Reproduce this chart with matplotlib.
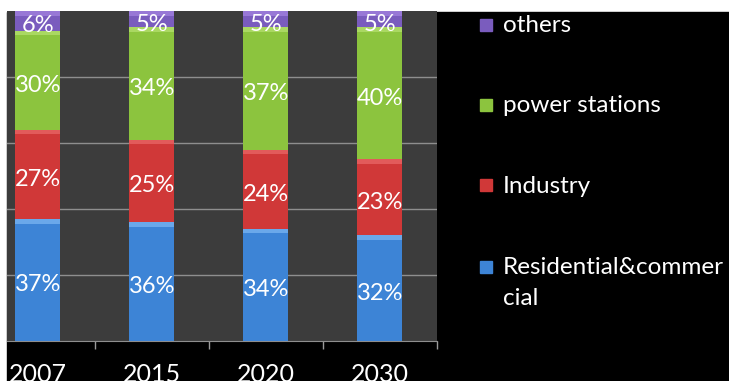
import matplotlib
matplotlib.use('agg')
import matplotlib.pyplot as plt
from matplotlib.patches import Rectangle
import numpy as np

years = ['2007', '2015', '2020', '2030']
series = ['Residential&commercial', 'Industry', 'power stations', 'others']
legend_labels = ['Residential&commer\ncial', 'Industry', 'power stations', 'others']
residential = [37, 36, 34, 32]
industry = [27, 25, 24, 23]
power = [30, 34, 37, 40]
others = [6, 5, 5, 5]

colors = ['#3d84d6', '#d03838', '#8cc43e', '#7a5cbe']
rims = ['#6aa8ea', '#e25a5a', '#aad862', '#9878d6']

plt.rcParams['font.family'] = ['Lato', 'DejaVu Sans']

W, H = 729, 381
fig = plt.figure(figsize=(W / 100, H / 100), dpi=100)
fig.patch.set_facecolor('white')
# black panel, leaving a thin white margin on the left and top
panel = Rectangle((7 / W, 0), 1, (H - 12) / H, transform=fig.transFigure,
                  color='black', zorder=-5)
fig.add_artist(panel)

ax = fig.add_axes([7 / W, (H - 341) / H, 430 / W, 330 / H])
ax.set_zorder(1)
ax.set_facecolor('#3c3c3c')
ax.set_ylim(0, 100)
ax.set_xlim(-0.27, 3.5)

x = np.arange(len(years))
width = 0.395
bottom = np.zeros(len(years))
for vals, c, rim in zip([residential, industry, power, others], colors, rims):
    vals = np.array(vals, dtype=float)
    ax.bar(x, vals, width, bottom=bottom, color=c, zorder=3)
    # lighter bevel along the top of every segment
    ax.bar(x, np.minimum(1.4, vals), width, bottom=bottom + vals - 1.4,
           color=rim, zorder=3.5)
    for xi, b, v in zip(x, bottom, vals):
        ax.text(xi, b + v / 2 - 1.5, f'{int(v)}%', ha='center', va='center',
                color='white', fontsize=17, zorder=5)
    bottom += vals

ax.set_yticks([20, 40, 60, 80])
ax.yaxis.grid(True, color='#8e8e8e', linewidth=1.0, zorder=1)
ax.tick_params(axis='y', length=0, labelleft=False)
ax.set_xticks(x)
ax.set_xticklabels(years, color='white', fontsize=18)
ax.tick_params(axis='x', length=0, pad=16)
ax.set_xticks(x + 0.5, minor=True)
ax.tick_params(axis='x', which='minor', length=6, color='#9a9a9a', width=1)
for side in ['top', 'left', 'right']:
    ax.spines[side].set_visible(False)
ax.spines['bottom'].set_color('#8e8e8e')

# legend on the right, top to bottom; baselines of the first text line
baselines = [33, 113, 193, 275]
for name, c, yb in zip(legend_labels[::-1], colors[::-1], baselines):
    sq = Rectangle((480 / W, 1 - (yb - 2) / H), 12 / W, 12 / H,
                   transform=fig.transFigure, color=c, zorder=2)
    fig.add_artist(sq)
    fig.text(503 / W, 1 - (yb - 17.5) / H, name, color='white', fontsize=17.5,
             va='top', ha='left', linespacing=1.55)

fig.savefig('out.png', dpi=100, facecolor=fig.get_facecolor())
